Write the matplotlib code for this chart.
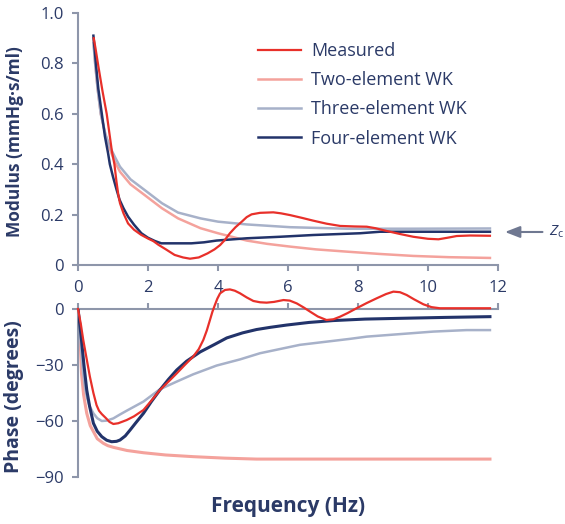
import matplotlib.pyplot as plt

plt.rcParams['font.family'] = ['Open Sans', 'DejaVu Sans']
plt.rcParams['mathtext.fontset'] = 'custom'
plt.rcParams['mathtext.it'] = 'Open Sans:italic'
plt.rcParams['mathtext.rm'] = 'Open Sans'

# Colours
RED = '#e8302a'
PINK = '#f4a29c'
GREY = '#a7b1c9'
NAVY = '#22336a'
TEXT = '#2b3a67'
SPINE = '#8e96aa'

# ---- Modulus (top) ----
meas_mod_f = [0.45, 0.5, 0.58, 0.7, 0.82, 0.91, 0.97, 1.04, 1.1, 1.15, 1.2, 1.3, 1.43,
              1.6, 1.8, 2.0, 2.15, 2.3, 2.5, 2.76, 3.0, 3.2, 3.45, 3.7, 3.9, 4.06, 4.2,
              4.34, 4.5, 4.68, 4.82, 4.96, 5.2, 5.58, 5.8, 6.06, 6.4, 6.72, 7.1, 7.49,
              7.9, 8.25, 8.5, 8.82, 9.2, 9.58, 10.0, 10.3, 10.55, 10.82, 11.2, 11.77]
meas_mod = [0.90, 0.86, 0.79, 0.69, 0.60, 0.51, 0.45, 0.40, 0.33, 0.28, 0.245, 0.205,
            0.165, 0.14, 0.12, 0.105, 0.095, 0.08, 0.063, 0.04, 0.03, 0.025, 0.03, 0.046,
            0.062, 0.079, 0.10, 0.126, 0.15, 0.172, 0.19, 0.201, 0.207, 0.209, 0.205,
            0.198, 0.187, 0.176, 0.164, 0.155, 0.153, 0.152, 0.146, 0.135, 0.123, 0.112,
            0.104, 0.102, 0.108, 0.115, 0.117, 0.116]

two_mod_f = [0.44, 0.49, 0.56, 0.65, 0.78, 0.91, 1.05, 1.2, 1.5, 1.9, 2.4, 2.86, 3.5,
             4.0, 4.82, 5.4, 6.06, 6.8, 7.68, 8.6, 9.58, 10.6, 11.77]
two_mod = [0.90, 0.80, 0.70, 0.60, 0.52, 0.46, 0.41, 0.37, 0.32, 0.278, 0.225, 0.185,
           0.146, 0.126, 0.097, 0.084, 0.073, 0.062, 0.053, 0.044, 0.036, 0.031, 0.028]

three_mod_f = [0.44, 0.49, 0.56, 0.65, 0.78, 0.91, 1.05, 1.2, 1.5, 1.9, 2.4, 2.86, 3.5,
               4.0, 4.82, 6.06, 7.68, 9.5, 11.77]
three_mod = [0.88, 0.80, 0.70, 0.60, 0.52, 0.47, 0.43, 0.39, 0.34, 0.298, 0.245, 0.208,
             0.185, 0.172, 0.161, 0.150, 0.144, 0.144, 0.145]

four_mod_f = [0.44, 0.48, 0.51, 0.58, 0.68, 0.77, 0.86, 0.91, 1.0, 1.1, 1.19, 1.3, 1.43,
              1.6, 1.81, 2.0, 2.2, 2.38, 2.91, 3.24, 3.6, 3.96, 4.82, 5.77, 6.72, 8.06,
              8.63, 11.77]
four_mod = [0.91, 0.85, 0.80, 0.70, 0.60, 0.51, 0.443, 0.40, 0.35, 0.30, 0.258, 0.225,
            0.192, 0.16, 0.126, 0.108, 0.095, 0.086, 0.086, 0.086, 0.09, 0.097, 0.106,
            0.112, 0.119, 0.126, 0.132, 0.132]

# ---- Phase (bottom) ----
meas_ph_f = [0.0, 0.08, 0.15, 0.25, 0.34, 0.44, 0.53, 0.6, 0.68, 0.8, 0.9, 1.01, 1.15,
             1.39, 1.6, 1.87, 2.1, 2.34, 2.58, 2.82, 3.05, 3.29, 3.45, 3.58, 3.68, 3.77,
             3.84, 3.91, 3.98, 4.06, 4.2, 4.34, 4.48, 4.63, 4.82, 5.01, 5.2, 5.39, 5.6,
             5.87, 6.05, 6.25, 6.45, 6.63, 6.85, 7.1, 7.3, 7.49, 7.7, 7.96, 8.25, 8.53,
             8.8, 9.01, 9.2, 9.39, 9.6, 9.87, 10.1, 10.34, 11.77]
meas_ph = [0, -8, -16.6, -27, -36.3, -45, -51.5, -54.5, -56.3, -58.5, -60.5, -61.6,
           -61.2, -59.5, -57.5, -54.1, -49, -43.4, -39, -34.5, -30, -25.5, -21.5, -16.6,
           -11.5, -5.9, -1.5, 2.1, 5.5, 8.4, 10.2, 10.5, 9.8, 8.4, 6.2, 4.3, 3.6, 3.4,
           3.8, 4.8, 4.5, 3.0, 0.8, -1.4, -4.0, -5.9, -5.5, -4.1, -2.2, 0.4, 3.2, 5.7,
           8.0, 9.3, 9.0, 7.5, 5.2, 2.5, 1.0, 0.4, 0.4]

two_ph_f = [0.0, 0.03, 0.06, 0.1, 0.16, 0.25, 0.35, 0.55, 0.72, 0.85, 1.01, 1.4, 1.87,
            2.5, 3.29, 4.2, 5.1, 11.77]
two_ph = [0, -8, -16.6, -34.5, -46, -55.9, -62.5, -69.5, -71.9, -73.2, -74.1, -75.8,
          -77.0, -78.2, -79.1, -79.9, -80.4, -80.4]

three_ph_f = [0.0, 0.05, 0.1, 0.15, 0.2, 0.25, 0.33, 0.44, 0.55, 0.68, 0.82, 1.01, 1.2,
              1.39, 1.87, 2.34, 2.82, 3.29, 3.96, 4.63, 5.2, 6.34, 7.77, 8.25, 10.15,
              11.1, 11.77]
three_ph = [0, -12, -24, -34.5, -42, -47, -52, -55.9, -58.5, -60, -59.8, -58.6, -56.5,
            -54.5, -49.6, -43.0, -38.9, -35.0, -30.3, -27.0, -23.7, -19.2, -16.0, -14.8,
            -12.1, -11.3, -11.3]

four_ph_f = [0.0, 0.05, 0.1, 0.17, 0.25, 0.33, 0.44, 0.55, 0.68, 0.82, 0.96, 1.1, 1.2,
             1.35, 1.49, 1.65, 1.87, 2.1, 2.34, 2.58, 2.82, 3.1, 3.49, 3.9, 4.25, 4.7,
             5.1, 5.5, 5.96, 6.6, 7.29, 8.2, 9.2, 10.5, 11.77]
four_ph = [0, -8, -16.6, -30, -43.4, -52, -61.2, -65.5, -68.4, -70.3, -71.1, -70.9,
           -70.2, -68, -64.8, -61, -55.9, -49.5, -43.4, -37.8, -32.7, -28, -23, -19,
           -15.5, -12.8, -11, -9.8, -8.6, -7.2, -6.2, -5.4, -5.0, -4.5, -4.1]

series_names = ['Measured', 'Two-element WK', 'Three-element WK', 'Four-element WK']
freq_ticks = [0, 2, 4, 6, 8, 10, 12]

W, H = 565, 524
fig = plt.figure(figsize=(W / 100, H / 100), dpi=100)
ax1 = fig.add_axes([78 / W, 1 - 265 / H, 420 / W, 252 / H])
ax2 = fig.add_axes([78 / W, 1 - 477 / H, 420 / W, 168 / H])

ax1.plot(two_mod_f, two_mod, color=PINK, lw=1.8, label=series_names[1], zorder=2)
ax1.plot(three_mod_f, three_mod, color=GREY, lw=1.8, label=series_names[2], zorder=2)
ax1.plot(four_mod_f, four_mod, color=NAVY, lw=1.8, label=series_names[3], zorder=3)
ax1.plot(meas_mod_f, meas_mod, color=RED, lw=1.6, label=series_names[0], zorder=4)

ax2.plot(two_ph_f, two_ph, color=PINK, lw=2.2, zorder=2)
ax2.plot(three_ph_f, three_ph, color=GREY, lw=1.8, zorder=2)
ax2.plot(four_ph_f, four_ph, color=NAVY, lw=2.2, zorder=3)
ax2.plot(meas_ph_f, meas_ph, color=RED, lw=1.6, zorder=4, clip_on=False)

for ax in (ax1, ax2):
    ax.set_xlim(0, 12)
    ax.set_xticks(freq_ticks)
    for s in ax.spines.values():
        s.set_color(SPINE)
        s.set_linewidth(1.5)
    ax.tick_params(direction='out', length=4, width=1.5, color=SPINE,
                   labelcolor=TEXT, labelsize=12)
    ax.patch.set_alpha(0)

ax1.set_ylim(0, 1.0)
ax1.set_yticks([0, 0.2, 0.4, 0.6, 0.8, 1.0])
ax1.set_yticklabels(['0', '0.2', '0.4', '0.6', '0.8', '1.0'])
ax1.spines['top'].set_visible(False)
ax1.spines['right'].set_visible(False)
ax1.tick_params(axis='x', pad=7)
ax1.tick_params(axis='y', pad=6)
ax1.set_ylabel('Modulus (mmHg·s/ml)', fontsize=12.5, fontweight='bold', color=TEXT)
ax1.yaxis.set_label_coords(-0.128, 0.49)

ax2.set_ylim(-90, 0)
ax2.set_yticks([-90, -60, -30, 0])
ax2.set_yticklabels(['\u221290', '\u221260', '\u221230', '0'])
ax2.spines['bottom'].set_visible(False)
ax2.spines['right'].set_visible(False)
ax2.xaxis.tick_top()
ax2.tick_params(axis='x', labeltop=False)
ax2.tick_params(axis='y', pad=6)
ax2.set_ylabel('Phase (degrees)', fontsize=14, fontweight='bold', color=TEXT)
ax2.yaxis.set_label_coords(-0.128, 0.48)
ax2.set_xlabel('Frequency (Hz)', fontsize=15, fontweight='bold', color=TEXT)
ax2.xaxis.set_label_position('bottom')
ax2.xaxis.set_label_coords(0.5, -0.115)

handles, labels = ax1.get_legend_handles_labels()
order = [3, 0, 1, 2]
leg = ax1.legend([handles[i] for i in order], [labels[i] for i in order],
                 loc='upper left', bbox_to_anchor=(258 / W, 1 - 42 / H),
                 bbox_transform=fig.transFigure, frameon=False, fontsize=13,
                 handlelength=2.4, handletextpad=0.55, labelspacing=0.62,
                 borderpad=0, borderaxespad=0)
for t in leg.get_texts():
    t.set_color(TEXT)

ax1.annotate('', xy=(12.12, 0.131), xytext=(13.35, 0.131),
             arrowprops=dict(arrowstyle='-|>,head_length=0.9,head_width=0.35',
                             color='#6f7891', lw=1.5),
             annotation_clip=False)
ax1.text(13.45, 0.131, '$Z_\\mathrm{c}$', fontsize=11, color=TEXT,
         va='center', ha='left', clip_on=False)

fig.savefig('out.png', dpi=100)
